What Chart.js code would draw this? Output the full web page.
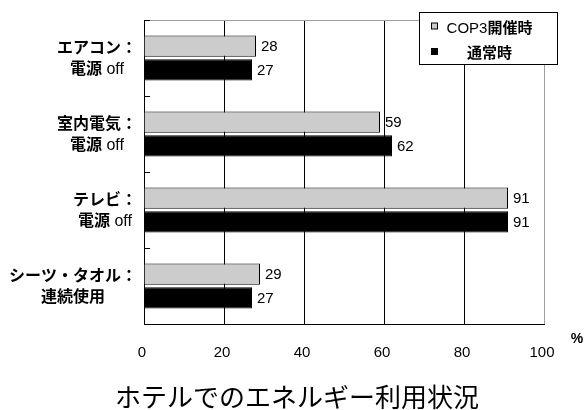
<!DOCTYPE html>
<html lang="ja">
<head>
<meta charset="utf-8">
<title>ホテルでのエネルギー利用状況</title>
<script src="https://cdn.jsdelivr.net/npm/chart.js@4/dist/chart.umd.min.js"></script>
<style>
  html, body { margin: 0; padding: 0; background: #fff; }
  canvas { display: block; }
</style>
</head>
<body>
<canvas id="chart" width="584" height="410"></canvas>
<script>
// Categories (two text lines each), series and axis ticks
const categories = [
  ['エアコン：', '電源 off'],
  ['室内電気：', '電源 off'],
  ['テレビ：', '電源 off'],
  ['シーツ・タオル：', '連続使用']
];
const seriesNames = ['COP3開催時', '通常時'];
const cop3Values = [28, 59, 91, 29];
const normalValues = [27, 62, 91, 27];
const xTickValues = [0, 20, 40, 60, 80, 100];
const unitLabel = '%';
const chartTitle = 'ホテルでのエネルギー利用状況';

const CJK = '"Noto Sans CJK JP", sans-serif';
const LATIN = '"Liberation Sans", Arial, sans-serif';

// Japanese runs are set in bold gothic, Latin runs in plain sans
function runsOf(text) {
  const runs = [];
  for (const ch of text) {
    const latin = ch.charCodeAt(0) < 0x80;
    const last = runs[runs.length - 1];
    if (last && last.latin === latin) last.text += ch;
    else runs.push({ text: ch, latin });
  }
  return runs;
}
function runFont(run, size) {
  return run.latin ? `${size.latin}px ${LATIN}` : `bold ${size.cjk}px ${CJK}`;
}
function measureRich(ctx, text, size) {
  let w = 0;
  for (const r of runsOf(text)) {
    ctx.font = runFont(r, size);
    w += ctx.measureText(r.text).width;
  }
  return w;
}
// all runs share one alphabetic baseline, placed so the line is centred on y
function drawRich(ctx, text, x, y, align, size) {
  const total = measureRich(ctx, text, size);
  let cx = align === 'center' ? x - total / 2 : align === 'right' ? x - total : x;
  const baseline = y + size.cjk * 0.37;
  ctx.textAlign = 'left';
  ctx.textBaseline = 'alphabetic';
  for (const r of runsOf(text)) {
    ctx.font = runFont(r, size);
    ctx.fillText(r.text, cx, baseline);
    cx += ctx.measureText(r.text).width;
  }
}

const labelSize = { cjk: 16, latin: 16 };
const legendSize = { cjk: 15, latin: 15 };

const decorations = {
  id: 'decorations',
  afterDatasetsDraw(chart) {
    const ctx = chart.ctx;
    const area = chart.chartArea;
    const yScale = chart.scales.y;
    ctx.save();

    // gray frame line along the top of the plot
    ctx.strokeStyle = '#a0a0a0';
    ctx.lineWidth = 1;
    ctx.beginPath();
    ctx.moveTo(area.left, Math.round(area.top) + 0.5);
    ctx.lineTo(area.right, Math.round(area.top) + 0.5);
    ctx.stroke();

    // short inside tick marks at the category boundaries
    const band = (yScale.bottom - yScale.top) / categories.length;
    ctx.strokeStyle = '#000';
    ctx.beginPath();
    for (let i = 0; i < categories.length; i++) {
      const y = Math.round(yScale.getPixelForValue(i) - band / 2) + 0.5;
      ctx.moveTo(area.left, y);
      ctx.lineTo(area.left + 6, y);
    }
    ctx.stroke();

    // value labels at the end of each bar
    ctx.fillStyle = '#000';
    ctx.font = `15px ${LATIN}`;
    ctx.textAlign = 'left';
    ctx.textBaseline = 'middle';
    chart.data.datasets.forEach((ds, di) => {
      chart.getDatasetMeta(di).data.forEach((bar, i) => {
        ctx.fillText(String(ds.data[i]), bar.x + 5, bar.y + 1);
      });
    });

    // category labels: first line right-aligned, second line centred under it
    categories.forEach((lines, i) => {
      const cy = yScale.getPixelForValue(i);
      const right = 137;
      const w1 = measureRich(ctx, lines[0], labelSize);
      const centre = right - w1 / 2;
      drawRich(ctx, lines[0], right, cy - 10.5, 'right', labelSize);
      drawRich(ctx, lines[1], centre, cy + 10.5, 'center', labelSize);
    });
    ctx.restore();
  },
  afterDraw(chart) {
    const ctx = chart.ctx;
    ctx.save();

    // legend box
    const bx = 419.5, by = 12.5, bw = 138, bh = 52;
    ctx.fillStyle = '#fff';
    ctx.fillRect(bx, by, bw, bh);
    ctx.strokeStyle = '#000';
    ctx.lineWidth = 1;
    ctx.strokeRect(bx, by, bw, bh);
    const rows = [26.5, 52];
    chart.data.datasets.forEach((ds, di) => {
      const ry = rows[di];
      ctx.fillStyle = ds.backgroundColor;
      ctx.fillRect(431.5, ry - 3.5, 6, 6);
      ctx.strokeStyle = '#000';
      ctx.strokeRect(431.5, ry - 3.5, 6, 6);
      ctx.fillStyle = '#000';
      drawRich(ctx, ds.label, 489.5, ry + 0.5, 'center', legendSize);
    });

    // unit label next to the value axis
    ctx.fillStyle = '#000';
    ctx.font = `bold 14px ${LATIN}`;
    ctx.textAlign = 'center';
    ctx.textBaseline = 'middle';
    ctx.fillText(unitLabel, 577, 339);

    // chart title below the axis
    ctx.font = `26px ${CJK}`;
    ctx.fillText(chartTitle, 297, 397);
    ctx.restore();
  }
};

new Chart(document.getElementById('chart'), {
  type: 'bar',
  data: {
    labels: categories,
    datasets: [
      {
        label: seriesNames[0],
        data: cop3Values,
        backgroundColor: '#cccccc',
        borderColor: '#000000',
        borderWidth: 1
      },
      {
        label: seriesNames[1],
        data: normalValues,
        backgroundColor: '#000000',
        borderColor: '#000000',
        borderWidth: 1
      }
    ]
  },
  options: {
    indexAxis: 'y',
    responsive: false,
    animation: false,
    devicePixelRatio: 1,
    layout: { padding: { left: 0, right: 40, top: 20, bottom: 46 } },
    categoryPercentage: 0.62,
    barPercentage: 0.9,
    plugins: {
      legend: { display: false },
      title: { display: false },
      tooltip: { enabled: false }
    },
    scales: {
      x: {
        min: 0,
        max: 100,
        afterBuildTicks(scale) { scale.ticks = xTickValues.map(v => ({ value: v })); },
        afterFit(scale) { scale.height = 40; },
        grid: {
          color: c => (c.tick && c.tick.value === 100 ? '#a0a0a0' : '#000000'),
          lineWidth: 1,
          drawTicks: false
        },
        border: { display: true, color: '#000000', width: 1 },
        ticks: {
          color: '#000',
          padding: 20,
          labelOffset: -2,
          maxRotation: 0,
          font: { family: LATIN, size: 15 }
        }
      },
      y: {
        afterFit(scale) { scale.width = 144; },
        grid: { display: false },
        border: { display: true, color: '#000000', width: 1 },
        ticks: { display: false }
      }
    }
  },
  plugins: [decorations]
});
</script>
</body>
</html>
